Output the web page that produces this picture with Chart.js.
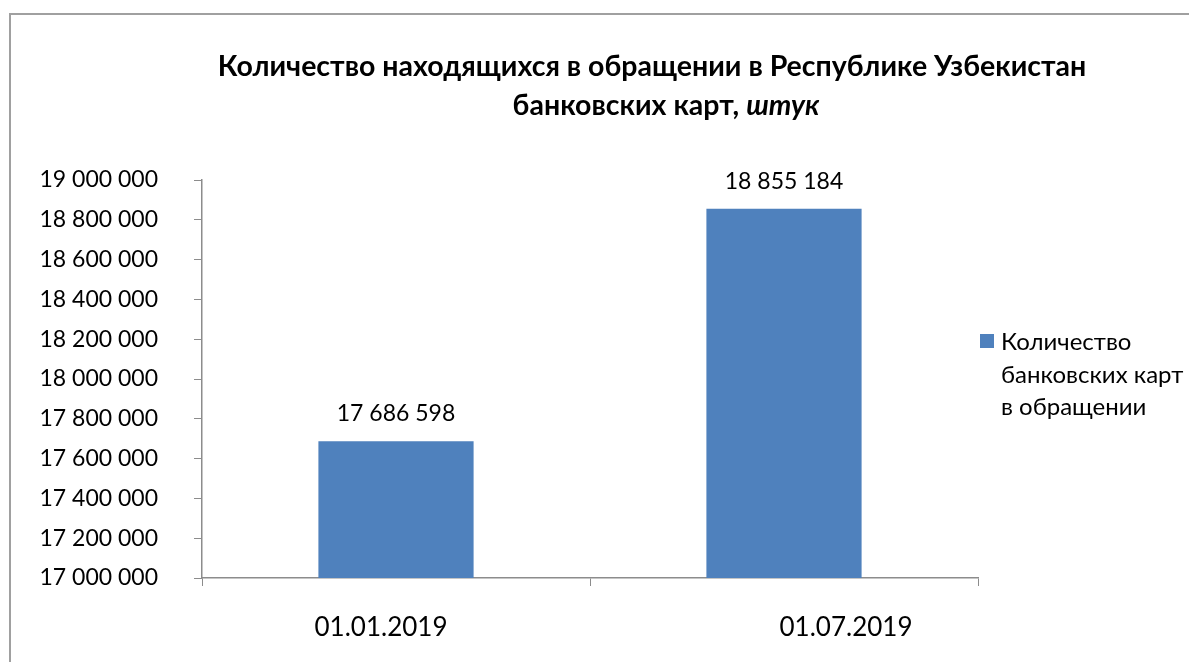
<!DOCTYPE html>
<html>
<head>
<meta charset="utf-8">
<script src="https://cdn.jsdelivr.net/npm/chart.js@4.4.1/dist/chart.umd.min.js"></script>
<style>
    html, body { margin: 0; padding: 0; background: #fff; overflow: hidden; }
    #wrap { position: relative; width: 1189px; height: 662px; }
    #frame { position: absolute; left: 9px; top: 13px; width: 1300px; height: 800px; border-left: 2px solid #a0a0a0; border-top: 2px solid #a0a0a0; }
    canvas { position: absolute; left: 0; top: 0; }
</style>
</head>
<body>
<div id="wrap">
    <div id="frame"></div>
    <canvas id="cards_chart" width="1189" height="662"></canvas>
</div>
<script>
var categories = ["01.01.2019", "01.07.2019"];
var cardValues = [17686598, 18855184];
var seriesName = ["Количество", "банковских карт", "в обращении"];
var titleLine1 = "Количество находящихся в обращении в Республике Узбекистан";
var titleLine2 = ["банковских карт, ", "штук"];
var yMin = 17000000, yMax = 19000000, yStep = 200000;

var FONT = "Lato, 'Open Sans', sans-serif";
var barColor = "#4f81bd";
var axisColor = "#8c8c8c";
var xLabelShift = [-15, 62];

function spaced(v) {
    return String(Math.round(v)).replace(/\B(?=(\d{3})+(?!\d))/g, " ");
}

// title, data labels, category labels and legend drawn by hand
var excelBits = {
    id: "excelBits",
    afterDraw(chart) {
        var ctx = chart.ctx, xs = chart.scales.x;
        ctx.save();
        ctx.fillStyle = "#000";
        ctx.textBaseline = "alphabetic";

        // title
        var tf = "bold 28.5px " + FONT, tfi = "italic bold 28.5px " + FONT;
        ctx.textAlign = "center";
        ctx.font = tf;
        ctx.fillText(titleLine1, 652, 76);
        var w1 = ctx.measureText(titleLine2[0]).width;
        ctx.font = tfi;
        var w2 = ctx.measureText(titleLine2[1]).width;
        var sx = 666 - (w1 + w2) / 2;
        ctx.textAlign = "left";
        ctx.font = tf;
        ctx.fillText(titleLine2[0], sx, 115);
        ctx.font = tfi;
        ctx.fillText(titleLine2[1], sx + w1, 115);

        // value labels
        ctx.textAlign = "center";
        ctx.font = "23px " + FONT;
        chart.getDatasetMeta(0).data.forEach(function (bar, i) {
            ctx.fillText(spaced(cardValues[i]), bar.x, bar.y - 20);
        });

        // category labels
        ctx.font = "26px " + FONT;
        categories.forEach(function (c, i) {
            ctx.fillText(c, xs.getPixelForValue(i) + xLabelShift[i], 636);
        });

        // legend
        ctx.fillStyle = barColor;
        ctx.fillRect(980, 334, 14, 14);
        ctx.fillStyle = "#000";
        ctx.textAlign = "left";
        ctx.font = "24px " + FONT;
        seriesName.forEach(function (t, i) {
            ctx.fillText(t, 1001, 350 + i * 32.5);
        });
        ctx.restore();
    },
};

var ctx = document.getElementById("cards_chart");
var myChart = new Chart(ctx, {
    type: "bar",
    data: {
        labels: categories,
        datasets: [{ label: seriesName.join(" "), data: cardValues, backgroundColor: barColor, borderWidth: 0, barPercentage: 0.4, categoryPercentage: 1 }],
    },
    options: {
        responsive: false,
        animation: false,
        layout: { padding: { top: 180, right: 211, left: 0, bottom: 0 } },
        plugins: { legend: { display: false }, title: { display: false }, tooltip: { enabled: false } },
        scales: {
            x: {
                grid: { display: true, drawOnChartArea: false, offset: true, tickLength: 8, color: axisColor },
                border: { color: axisColor, width: 1.5 },
                ticks: { display: false },
                afterFit: function (s) { s.height = 84; },
            },
            y: {
                min: yMin,
                max: yMax,
                grid: { drawOnChartArea: false, tickLength: 8, color: axisColor },
                border: { color: axisColor, width: 1.5 },
                ticks: {
                    stepSize: yStep,
                    padding: 36,
                    color: "#000",
                    font: { family: FONT, size: 23 },
                    callback: function (v) { return spaced(v); },
                },
                afterFit: function (s) { s.width = 202; },
            },
        },
    },
    plugins: [excelBits],
});
</script>
</body>
</html>
